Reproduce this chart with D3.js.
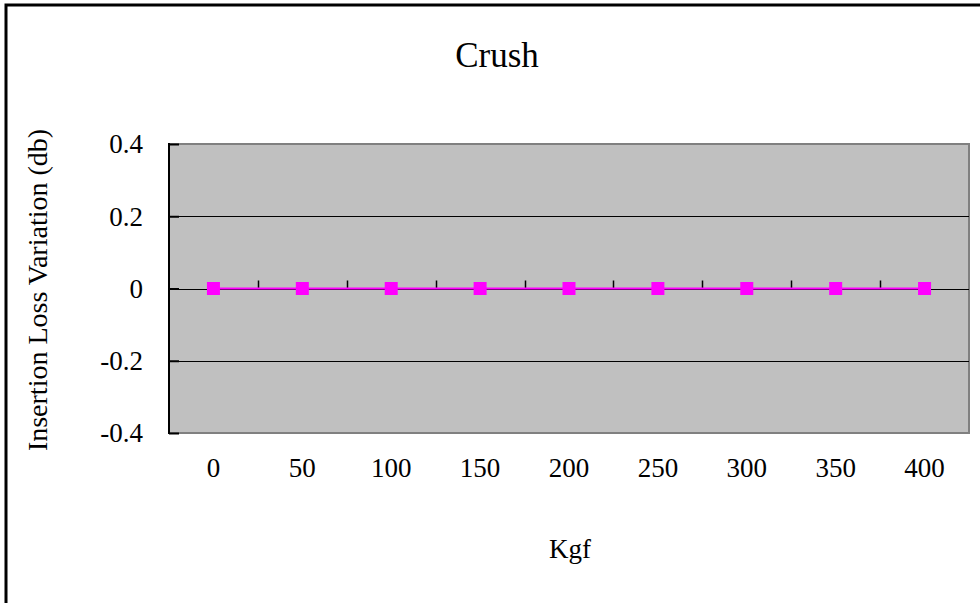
<!DOCTYPE html>
<html>
<head>
<meta charset="utf-8">
<script src="https://cdn.jsdelivr.net/npm/d3@7"></script>
<style>
  html, body { margin: 0; padding: 0; background: #fff; }
  svg { display: block; }
  text { font-family: "Liberation Serif", "Times New Roman", serif; fill: #000; }
</style>
</head>
<body>
<svg id="chart" width="980" height="603"></svg>
<script>
const categories = ["0", "50", "100", "150", "200", "250", "300", "350", "400"];
const values = [0, 0, 0, 0, 0, 0, 0, 0, 0];
const yTicks = [-0.4, -0.2, 0, 0.2, 0.4];
const yTickLabels = ["-0.4", "-0.2", "0", "0.2", "0.4"];
const title = "Crush";
const xTitle = "Kgf";
const yTitle = "Insertion Loss Variation (db)";

const svg = d3.select("#chart");
const plot = { left: 169, right: 969, top: 144, bottom: 433 };

// outer frame (right/bottom edges fall outside picture)
svg.append("rect").attr("x", 6).attr("y", 5).attr("width", 1100).attr("height", 1100)
  .attr("fill", "none").attr("stroke", "#000").attr("stroke-width", 3);

const x = d3.scaleBand().domain(categories).range([plot.left, plot.right]).padding(0);
const y = d3.scaleLinear().domain([-0.4, 0.4]).range([plot.bottom, plot.top]);

// plot background
svg.append("rect").attr("x", plot.left).attr("y", plot.top)
  .attr("width", plot.right - plot.left).attr("height", plot.bottom - plot.top)
  .attr("fill", "#C0C0C0").attr("stroke", "#808080").attr("stroke-width", 2);

// gridlines
svg.append("g").selectAll("line").data(yTicks.filter(v => Math.abs(v) < 0.39 && v !== 0)).join("line")
  .attr("x1", plot.left).attr("x2", plot.right)
  .attr("y1", d => Math.round(y(d)) + 0.5).attr("y2", d => Math.round(y(d)) + 0.5)
  .attr("stroke", "#000").attr("stroke-width", 1);

// y axis
const yAxis = d3.axisRight(y).tickValues(yTicks).tickSize(10).tickFormat("");
const gy = svg.append("g").attr("transform", `translate(${plot.left},0)`).call(yAxis);
gy.select(".domain").remove();
gy.selectAll(".tick line").attr("stroke", "#000").attr("stroke-width", 2);
svg.append("line").attr("x1", plot.left).attr("x2", plot.left)
  .attr("y1", plot.top - 1).attr("y2", plot.bottom + 1)
  .attr("stroke", "#000").attr("stroke-width", 2);

svg.append("g").selectAll("text").data(yTicks).join("text")
  .attr("x", 143).attr("y", d => y(d)).attr("dy", "0.35em")
  .attr("text-anchor", "end").attr("font-size", 27)
  .text((d, i) => yTickLabels[i]);

// x axis at y = 0
const y0 = Math.round(y(0)) + 0.5;
svg.append("line").attr("x1", plot.left).attr("x2", plot.right)
  .attr("y1", y0).attr("y2", y0).attr("stroke", "#000").attr("stroke-width", 1);
const boundaries = categories.slice(1).map(c => x(c));
svg.append("g").selectAll("line").data(boundaries).join("line")
  .attr("x1", d => Math.round(d) + 0.5).attr("x2", d => Math.round(d) + 0.5)
  .attr("y1", y0).attr("y2", y0 - 9)
  .attr("stroke", "#000").attr("stroke-width", 1.5);

// x labels
svg.append("g").selectAll("text").data(categories).join("text")
  .attr("x", d => x(d) + x.bandwidth() / 2).attr("y", 468).attr("dy", "0.35em")
  .attr("text-anchor", "middle").attr("font-size", 27)
  .text(d => d);

// series line
const line = d3.line().x((d, i) => x(categories[i]) + x.bandwidth() / 2).y(d => y(d));
svg.append("path").datum(values).attr("d", line)
  .attr("fill", "none").attr("stroke", "#FF00FF").attr("stroke-width", 2);

// markers
const ms = 13;
svg.append("g").selectAll("rect").data(values).join("rect")
  .attr("x", (d, i) => x(categories[i]) + x.bandwidth() / 2 - ms / 2)
  .attr("y", d => y(d) - ms / 2)
  .attr("width", ms).attr("height", ms)
  .attr("fill", "#FF00FF");

// titles
svg.append("text").attr("x", 497).attr("y", 55).attr("dy", "0.35em")
  .attr("text-anchor", "middle").attr("font-size", 35).text(title);
svg.append("text").attr("x", 570).attr("y", 549).attr("dy", "0.35em")
  .attr("text-anchor", "middle").attr("font-size", 27).text(xTitle);
svg.append("text").attr("transform", `translate(37,290) rotate(-90)`).attr("dy", "0.35em")
  .attr("text-anchor", "middle").attr("font-size", 28).text(yTitle);
</script>
</body>
</html>
